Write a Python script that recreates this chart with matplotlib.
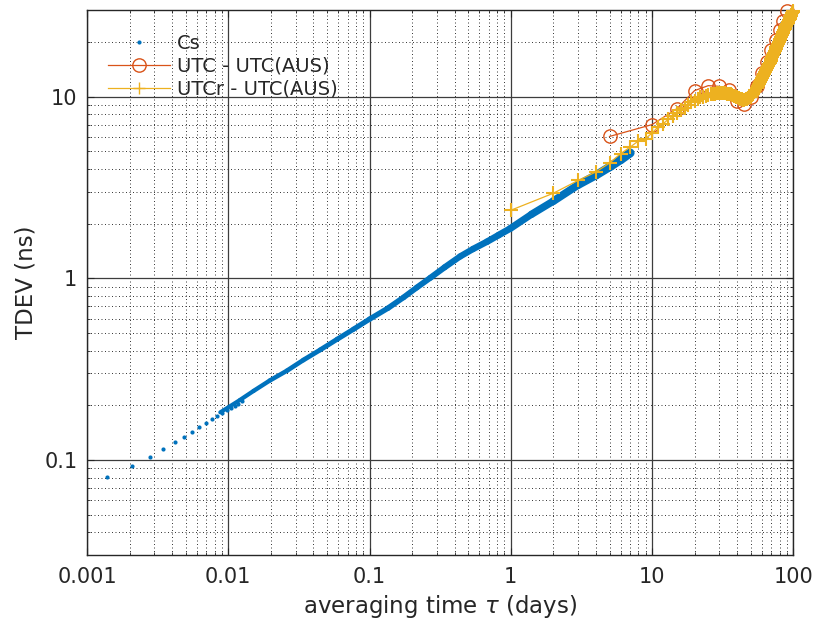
import numpy as np
import matplotlib
matplotlib.use("Agg")
import matplotlib.pyplot as plt
from matplotlib.collections import LineCollection
from matplotlib.lines import Line2D
from matplotlib.ticker import LogLocator, FixedLocator, NullFormatter

# ---- Cs clock: TDEV vs averaging time (days) ----
# isolated samples at short averaging times (n minutes, n = 2..18)
cs_tau_sparse = [2/1440, 3/1440, 4/1440, 5/1440, 6/1440, 7/1440, 8/1440,
                 9/1440, 10/1440, 11/1440, 12/1440, 13/1440, 14/1440,
                 15/1440, 16/1440, 17/1440, 18/1440]
cs_tdev_sparse = [0.0805, 0.0922, 0.104, 0.115, 0.125, 0.134, 0.143,
                  0.151, 0.160, 0.168, 0.175, 0.182, 0.188,
                  0.193, 0.199, 0.204, 0.210]
# densely sampled part of the same curve
cs_tau_dense = [0.00878, 0.0121, 0.0151, 0.0197, 0.0260, 0.0340, 0.0448,
                0.0590, 0.0771, 0.100, 0.135, 0.174, 0.216, 0.269, 0.340,
                0.438, 0.540, 0.678, 0.820, 0.991, 1.40, 2.0, 3.0, 4.0,
                5.0, 6.0, 7.0]
cs_tdev_dense = [0.183, 0.214, 0.240, 0.274, 0.310, 0.355, 0.404,
                 0.462, 0.525, 0.596, 0.685, 0.785, 0.890, 1.006, 1.15,
                 1.32, 1.45, 1.59, 1.73, 1.88, 2.25, 2.66, 3.27, 3.69,
                 4.10, 4.50, 4.90]

# ---- UTC - UTC(AUS), 5-day steps ----
utc_tau = [5, 10, 15, 20, 25, 30, 35, 40, 45, 50, 55, 60, 65, 70, 75, 80, 85, 90]
utc_tdev = [6.04, 7.02, 8.59, 10.8, 11.5, 11.4, 10.9, 9.5, 9.15, 9.95,
            11.5, 13.5, 15.5, 18.0, 20.5, 23.2, 26.1, 29.6]

# ---- UTCr - UTC(AUS), daily steps ----
utcr_tau = list(range(1, 101))
utcr_tdev = [2.37, 2.94, 3.46, 3.85, 4.31, 4.86, 5.28, 5.70, 5.88, 6.3,
             6.8, 7.1, 7.5, 7.8, 8.1, 8.4, 8.7, 9.0, 9.3, 9.5,
             9.7, 9.9, 10.0, 10.1, 10.2, 10.3, 10.4, 10.4, 10.5, 10.5,
             10.5, 10.5, 10.5, 10.4, 10.4, 10.3, 10.2, 10.1, 10.0, 9.9,
             9.8, 9.7, 9.7, 9.6, 9.6, 9.7, 9.7, 9.8, 9.9, 10.0,
             10.2, 10.4, 10.6, 10.9, 11.1, 11.4, 11.7, 12.0, 12.3, 12.7,
             13.0, 13.3, 13.7, 14.0, 14.4, 14.7, 15.1, 15.4, 15.8, 16.2,
             16.6, 17.0, 17.4, 17.9, 18.3, 18.7, 19.1, 19.6, 20.0, 20.5,
             20.9, 21.4, 21.8, 22.3, 22.7, 23.2, 23.6, 24.1, 24.5, 25.0,
             25.5, 25.9, 26.4, 26.8, 27.3, 27.8, 28.2, 28.7, 29.1, 29.6]

x_ticks = [0.001, 0.01, 0.1, 1, 10, 100]
x_ticklabels = ["0.001", "0.01", "0.1", "1", "10", "100"]
y_ticks = [0.1, 1, 10]
y_ticklabels = ["0.1", "1", "10"]

BLUE = "#0072BD"
RED = "#D95319"
GOLD = "#EDB120"
TXT = "#262626"

plt.rcParams["font.family"] = ["DejaVu Sans"]
plt.rcParams["mathtext.fontset"] = "dejavusans"

fig = plt.figure(figsize=(8.19, 6.26), dpi=100)
ax = fig.add_axes([87 / 819, 71 / 626, (793.3 - 87) / 819, 545 / 626])
ax.set_xscale("log")
ax.set_yscale("log")
ax.set_xlim(0.001, 100)
ax.set_ylim(0.03, 30)

# grid: solid major, dotted minor
ax.set_axisbelow(True)
ax.grid(True, which="major", color="#3d3d3d", linewidth=0.9, linestyle="-")
ax.grid(True, which="minor", color="#333333", linewidth=0.7,
        linestyle=(0, (1, 2.6)))

# Cs: dense band drawn as a thickening stroke, sparse samples as dots
segs = [[(cs_tau_dense[i], cs_tdev_dense[i]),
         (cs_tau_dense[i + 1], cs_tdev_dense[i + 1])]
        for i in range(len(cs_tau_dense) - 1)]
log_tau = np.log10(cs_tau_dense)
mid_log_tau = 0.5 * (log_tau[:-1] + log_tau[1:])
widths = np.interp(mid_log_tau, [-2.05, -1.0, 0.0, 0.85], [2.9, 3.8, 4.9, 6.5])
lc = LineCollection(segs, colors=BLUE, linewidths=widths,
                    capstyle="round", joinstyle="round", zorder=3)
ax.add_collection(lc)
ax.plot(cs_tau_sparse, cs_tdev_sparse, linestyle="none", marker="o",
        markersize=3.0, markeredgewidth=0, color=BLUE, zorder=3)

ax.plot(utc_tau, utc_tdev, color=RED, linewidth=0.9, marker="o",
        markersize=9.6, markerfacecolor="none", markeredgewidth=1.0,
        zorder=4, clip_on=False)
ax.plot(utcr_tau, utcr_tdev, color=GOLD, linewidth=0.9, marker="+",
        markersize=10.0, markeredgewidth=1.5, zorder=5, clip_on=False)

ax.xaxis.set_major_locator(FixedLocator(x_ticks))
ax.set_xticklabels(x_ticklabels)
ax.yaxis.set_major_locator(FixedLocator(y_ticks))
ax.set_yticklabels(y_ticklabels)
ax.xaxis.set_minor_locator(LogLocator(base=10, subs=np.arange(2, 10), numticks=20))
ax.yaxis.set_minor_locator(LogLocator(base=10, subs=np.arange(2, 10), numticks=20))
ax.xaxis.set_minor_formatter(NullFormatter())
ax.yaxis.set_minor_formatter(NullFormatter())

ax.tick_params(which="both", direction="in", top=True, right=True,
               colors=TXT, labelcolor=TXT)
ax.tick_params(which="major", length=5, width=0.8, labelsize=15)
ax.tick_params(which="minor", length=2.5, width=0.6)
ax.tick_params(axis="x", which="major", pad=8.5)
ax.tick_params(axis="y", which="major", pad=7)
for s in ax.spines.values():
    s.set_color(TXT)
    s.set_linewidth(1.0)

ax.set_xlabel(r"averaging time $\tau$ (days)", fontsize=16.5, color=TXT,
              labelpad=4.5)
ax.set_ylabel("TDEV (ns)", fontsize=16.5, color=TXT, labelpad=5)

handles = [
    Line2D([], [], linestyle="none", marker="o", markersize=3.0,
           markeredgewidth=0, color=BLUE),
    Line2D([], [], color=RED, linewidth=0.9, marker="o", markersize=9.6,
           markerfacecolor="none", markeredgewidth=1.0),
    Line2D([], [], color=GOLD, linewidth=0.9, marker="+", markersize=9.0,
           markeredgewidth=1.0),
]
labels = ["Cs", "UTC - UTC(AUS)", "UTCr - UTC(AUS)"]
leg = ax.legend(handles, labels, loc="upper left", frameon=False,
                fontsize=14, numpoints=1, handlelength=3.2,
                handletextpad=0.35, labelspacing=0.2, borderpad=0,
                borderaxespad=0,
                bbox_to_anchor=(108 / 819, 1 - 34 / 626),
                bbox_transform=fig.transFigure)
for t in leg.get_texts():
    t.set_color(TXT)

fig.savefig("out.png", dpi=100)
